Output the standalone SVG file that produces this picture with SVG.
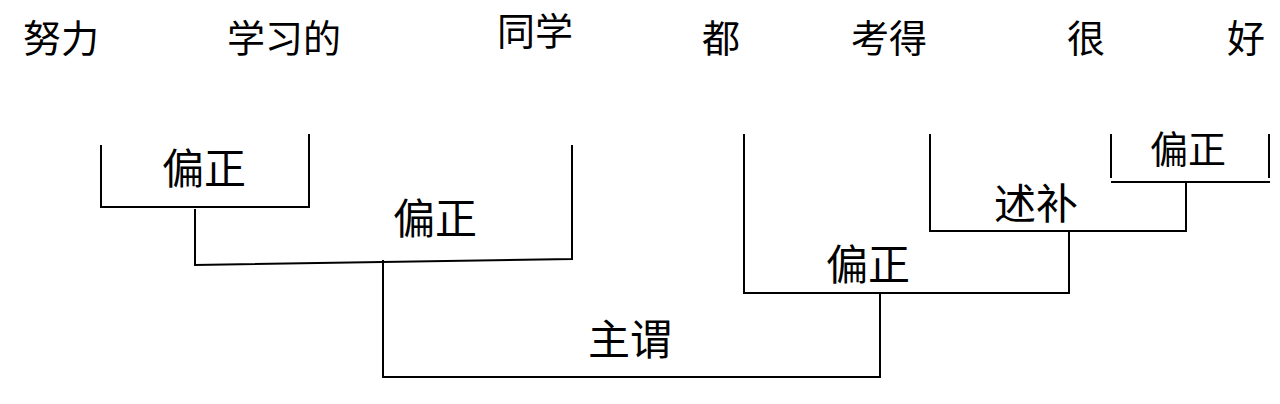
<svg xmlns="http://www.w3.org/2000/svg" width="1280" height="404" viewBox="0 0 1280 404">
<style>
.w{font-family:"Noto Sans CJK SC","Noto Sans",sans-serif;font-size:38px;fill:#000}
.l{font-family:"Noto Sans CJK SC","Noto Sans",sans-serif;font-size:42px;fill:#000;text-anchor:middle}
.c{fill:none;stroke:#000;stroke-width:2}
</style>
<rect width="1280" height="404" fill="#fff"/>
<g id="words">
<text id="w1" class="w" x="23" y="52">努力</text>
<text id="w2" class="w" x="227" y="52">学习的</text>
<text id="w3" class="w" x="497" y="45">同学</text>
<text id="w4" class="w" x="702" y="52">都</text>
<text id="w5" class="w" x="851" y="52">考得</text>
<text id="w6" class="w" x="1067" y="52">很</text>
<text id="w7" class="w" x="1227" y="52">好</text>
</g>
<g id="connectors">
<path class="c" d="M101 145V207H309V134"/>
<path class="c" d="M195 209V265L572 259V145"/>
<path class="c" d="M383 260V377H880V293"/>
<path class="c" d="M744 134V293H1069V231"/>
<path class="c" d="M930 134V231H1186V182"/>
<path class="c" d="M1111 134V178"/>
<path class="c" d="M1111 182H1270"/>
<path class="c" d="M1269 134V178"/>
</g>
<g id="n1"><text class="l" x="204" y="184">偏正</text></g>
<g id="n2"><text class="l" x="435" y="234">偏正</text></g>
<g id="n3"><text class="l" x="630" y="355">主谓</text></g>
<g id="n4"><text class="l" x="868" y="280">偏正</text></g>
<g id="n5"><text class="l" x="1036" y="219">述补</text></g>
<g id="n6"><text class="l" x="1188" y="163" style="font-size:38px">偏正</text></g>
</svg>
